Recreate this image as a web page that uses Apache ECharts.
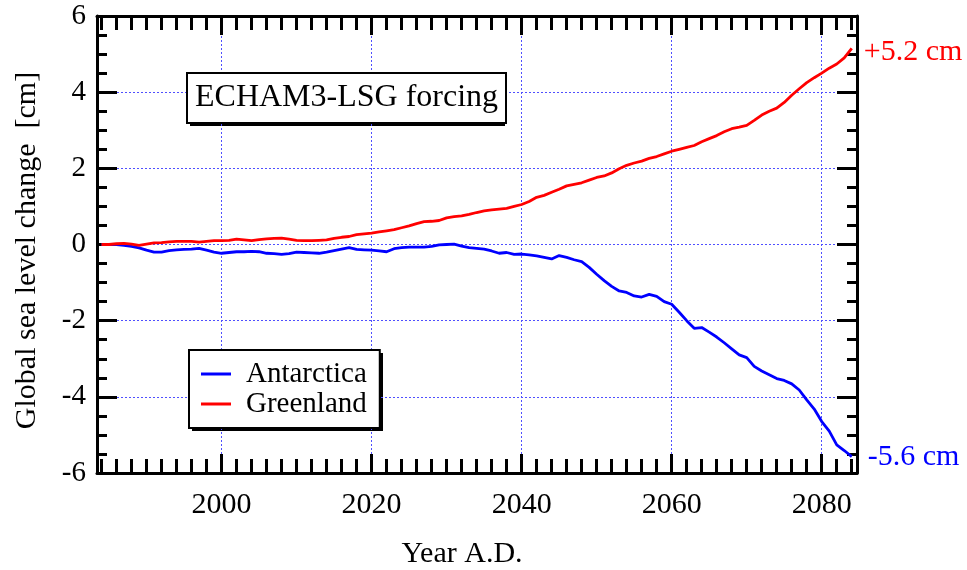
<!DOCTYPE html>
<html>
<head>
<meta charset="utf-8">
<script src="https://cdn.jsdelivr.net/npm/echarts@6/dist/echarts.min.js"></script>
<style>html,body{margin:0;padding:0;background:#fff}#c{width:967px;height:570px}</style>
</head>
<body>
<div id="c"></div>
<script>
const startYear = 1984;
const antarctica = [
  0, 0, 0, -0.02, -0.05, -0.09, -0.15, -0.2, -0.2, -0.16,
  -0.14, -0.13, -0.12, -0.1, -0.15, -0.2, -0.23, -0.21, -0.19, -0.19,
  -0.18, -0.19, -0.23, -0.24, -0.26, -0.24, -0.2, -0.21, -0.22, -0.23,
  -0.2, -0.16, -0.12, -0.08, -0.13, -0.14, -0.15, -0.17, -0.19, -0.11,
  -0.08, -0.07, -0.07, -0.07, -0.05, -0.01, 0, 0.01, -0.04, -0.08,
  -0.1, -0.12, -0.17, -0.23, -0.21, -0.26, -0.25, -0.27, -0.3, -0.34,
  -0.38, -0.29, -0.34, -0.4, -0.45, -0.6, -0.78, -0.95, -1.1, -1.22,
  -1.26, -1.35, -1.38, -1.31, -1.36, -1.5, -1.57, -1.78, -2.0, -2.2,
  -2.18, -2.3, -2.43, -2.58, -2.74, -2.9, -2.97, -3.2, -3.32, -3.42,
  -3.52, -3.57, -3.66, -3.82, -4.08, -4.32, -4.65, -4.9, -5.26, -5.41,
  -5.57
];
const greenland = [
  0, 0, 0.02, 0.03, 0.01, -0.02, 0.01, 0.04, 0.05, 0.07,
  0.08, 0.08, 0.08, 0.06, 0.08, 0.1, 0.1, 0.11, 0.14, 0.12,
  0.1, 0.13, 0.15, 0.16, 0.17, 0.14, 0.11, 0.1, 0.1, 0.11,
  0.12, 0.16, 0.19, 0.21, 0.26, 0.28, 0.3, 0.33, 0.36, 0.39,
  0.44, 0.49, 0.55, 0.6, 0.61, 0.63, 0.7, 0.73, 0.75, 0.79,
  0.84, 0.88, 0.91, 0.93, 0.95, 1.0, 1.05, 1.13, 1.24, 1.29,
  1.37, 1.45, 1.54, 1.58, 1.62, 1.69, 1.76, 1.8, 1.88, 1.99,
  2.08, 2.14, 2.19, 2.26, 2.31, 2.38, 2.45, 2.5, 2.55, 2.6,
  2.7, 2.78, 2.86, 2.96, 3.04, 3.08, 3.13, 3.26, 3.4, 3.5,
  3.58, 3.73, 3.92, 4.09, 4.25, 4.38, 4.5, 4.63, 4.74, 4.9,
  5.15
];
const seriesNames = ['Antarctica', 'Greenland'];
const endLabels = ['-5.6 cm', '+5.2 cm'];
const xMajorTicks = [2000, 2020, 2040, 2060, 2080];
const xMinorTicks = [];
for (let y = 1984; y <= 2084; y += 2) if (xMajorTicks.indexOf(y) < 0) xMinorTicks.push(y);
const yTicks = [-6, -4, -2, 0, 2, 4, 6];
const titleText = 'ECHAM3-LSG forcing';
const xName = 'Year A.D.';
const yName = 'Global sea level change  [cm]';

const FONT = 'Liberation Serif';
const colors = ['#0000ff', '#ff0000'];
const GRIDC = '#4f4fff';
const X_MIN = 1983.4, X_MAX = 2084.7;
const endLabelLayout = [ { distance: 16, offset: [0, 1] }, { distance: 12, offset: [0, 4] } ];

function pairs(arr) { return arr.map((v, i) => [startYear + i, v]); }

const chart = echarts.init(document.getElementById('c'), null, { renderer: 'canvas' });

function tickAxis(position, values, len, withLine) {
  return {
    type: 'value', min: X_MIN, max: X_MAX, gridIndex: 0, position: position,
    axisLine: { show: withLine, onZero: false, lineStyle: { color: '#000', width: 3 } },
    axisLabel: { show: false },
    splitLine: { show: false },
    axisTick: { show: true, inside: true, length: len, customValues: values, lineStyle: { color: '#000', width: 3 } }
  };
}

chart.setOption({
  animation: false,
  backgroundColor: '#fff',
  graphic: [
    { type: 'rect', z: 0, shape: { x: 190, y: 76, width: 315, height: 50 }, style: { fill: '#000' } },
    { type: 'rect', z: 0, shape: { x: 192, y: 353, width: 191, height: 78 }, style: { fill: '#000' } }
  ],
  title: {
    text: titleText,
    left: 187, top: 73,
    padding: [7, 8, 7, 8],
    backgroundColor: '#fff',
    borderColor: '#000', borderWidth: 2,
    textStyle: { fontFamily: FONT, fontSize: 32, fontWeight: 'normal', color: '#000', lineHeight: 36 }
  },
  legend: {
    orient: 'vertical', left: 189, top: 350,
    padding: [9, 13, 9, 12],
    itemGap: 0, itemWidth: 30, itemHeight: 3,
    icon: 'rect',
    backgroundColor: '#fff',
    borderColor: '#000', borderWidth: 2,
    textStyle: { fontFamily: FONT, fontSize: 29, color: '#000', lineHeight: 30, padding: [0, 0, 0, 10] },
    data: seriesNames
  },
  grid: { left: 97, right: 110, top: 16, bottom: 97, show: false, outerBoundsMode: 'none', containLabel: false },
  xAxis: [
    {
      type: 'value', min: X_MIN, max: X_MAX, gridIndex: 0, position: 'bottom',
      name: xName, nameLocation: 'middle', nameGap: 66,
      nameTextStyle: { fontFamily: FONT, fontSize: 30, color: '#000', padding: [0, 30, 0, 0] },
      axisLine: { show: true, onZero: false, lineStyle: { color: '#000', width: 3 } },
      axisTick: { show: true, inside: true, length: 19, customValues: xMajorTicks, lineStyle: { color: '#000', width: 3 } },
      axisLabel: { show: true, customValues: xMajorTicks, margin: 17, fontFamily: FONT, fontSize: 30, color: '#000',
        formatter: v => String(v) },
      splitLine: { show: true, lineStyle: { color: GRIDC, width: 1, type: [2, 2] } }
    },
    tickAxis('bottom', xMinorTicks, 14, false),
    tickAxis('top', xMajorTicks, 19, true),
    tickAxis('top', xMinorTicks, 14, false)
  ],
  yAxis: [
    {
      type: 'value', min: -6, max: 6, interval: 2, position: 'left',
      name: yName, nameLocation: 'middle', nameGap: 55, nameRotate: 90,
      nameTextStyle: { fontFamily: FONT, fontSize: 30, color: '#000', padding: [0, 12, 0, 0] },
      axisLine: { show: true, onZero: false, lineStyle: { color: '#000', width: 3 } },
      axisTick: { show: true, inside: true, length: 20, lineStyle: { color: '#000', width: 3 } },
      minorTick: { show: true, splitNumber: 4, length: 10, lineStyle: { color: '#000', width: 3 } },
      axisLabel: { show: true, margin: 11, fontFamily: FONT, fontSize: 29, color: '#000',
        formatter: v => (yTicks.indexOf(v) >= 0 ? (v < 0 ? '-' + Math.abs(v) : String(v)) : '') },
      splitLine: { show: true, lineStyle: { color: GRIDC, width: 1, type: [2, 2] } }
    },
    {
      type: 'value', min: -6, max: 6, interval: 2, position: 'right',
      axisLine: { show: true, onZero: false, lineStyle: { color: '#000', width: 3 } },
      axisTick: { show: true, inside: true, length: 20, lineStyle: { color: '#000', width: 3 } },
      minorTick: { show: true, splitNumber: 4, length: 10, lineStyle: { color: '#000', width: 3 } },
      axisLabel: { show: false }, splitLine: { show: false }
    }
  ],
  series: [antarctica, greenland].map((arr, i) => ({
    name: seriesNames[i],
    type: 'line',
    xAxisIndex: 0, yAxisIndex: 0,
    data: pairs(arr),
    showSymbol: false, symbol: 'none',
    lineStyle: { color: colors[i], width: 2.8 },
    itemStyle: { color: colors[i] },
    endLabel: { show: true, formatter: endLabels[i], color: colors[i], fontFamily: FONT, fontSize: 30,
      distance: endLabelLayout[i].distance, offset: endLabelLayout[i].offset },
    z: 3
  }))
});
</script>
</body>
</html>
